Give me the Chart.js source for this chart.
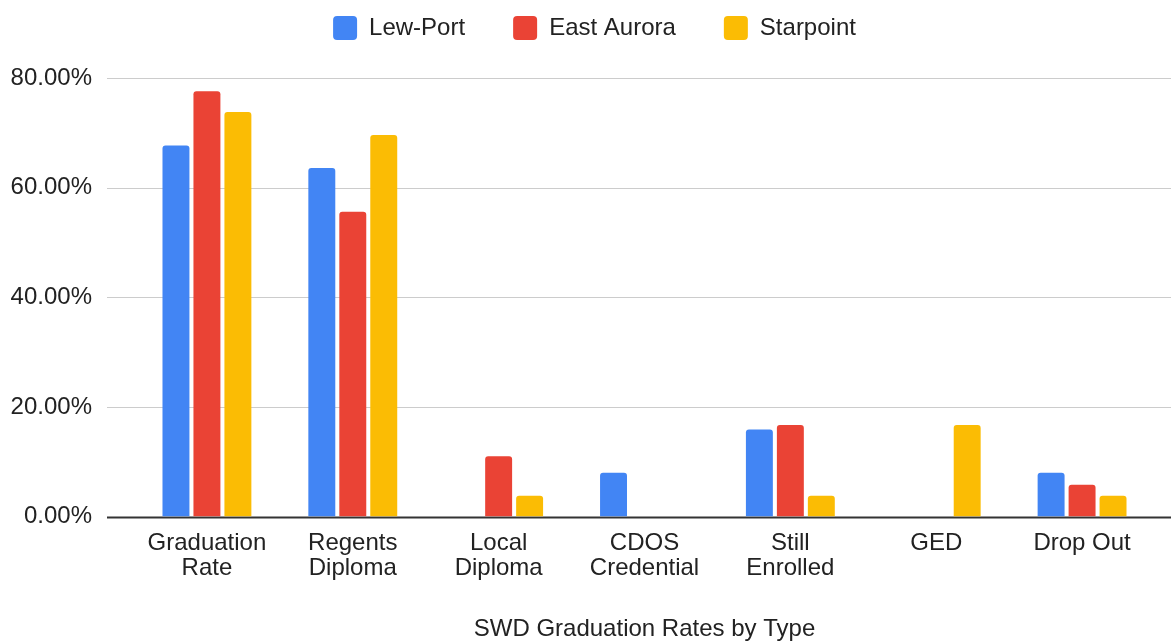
<!DOCTYPE html>
<html>
<head>
<meta charset="utf-8">
<script src="https://cdn.jsdelivr.net/npm/chart.js@4/dist/chart.umd.min.js"></script>
<style>
  html, body { margin: 0; padding: 0; background: #fff; }
  #wrap { width: 1171px; height: 641px; }
</style>
</head>
<body>
<div id="wrap"><canvas id="myChart" width="1171" height="641"></canvas></div>
<script>
const categories = [
  ['Graduation', 'Rate'],
  ['Regents', 'Diploma'],
  ['Local', 'Diploma'],
  ['CDOS', 'Credential'],
  ['Still', 'Enrolled'],
  'GED',
  'Drop Out'
];

const lewPort    = [67.7, 63.6, 0, 8.0, 15.9, 0, 8.0];
const eastAurora = [77.6, 55.6, 11.0, 0, 16.7, 0, 5.8];
const starpoint  = [73.8, 69.6, 3.8, 0, 3.8, 16.7, 3.8];

const yTicks = [0, 20, 40, 60, 80];

const font = "'Liberation Sans', Arial, sans-serif";
const legendGap = 48;
const topPad = 16 - legendGap;

// draws the horizontal grid a bit wider than the plot, like the original
const wideGrid = {
  id: 'wideGrid',
  beforeDatasetsDraw(chart) {
    const c = chart.ctx;
    const y = chart.scales.y;
    c.save();
    yTicks.forEach(v => {
      const py = Math.round(y.getPixelForValue(v)) + 0.5;
      c.beginPath();
      c.moveTo(chart.chartArea.left - 27, py);
      c.lineTo(chart.width, py);
      c.lineWidth = v === 0 ? 2 : 1;
      c.strokeStyle = v === 0 ? '#333333' : '#cccccc';
      c.stroke();
    });
    c.restore();
  }
};

// legend block tall enough so the plot starts lower, nudged right a little
const legendHeight = {
  id: 'legendHeight',
  beforeInit(chart) {
    const fit = chart.legend.fit;
    chart.legend.fit = function () {
      fit.call(this);
      this.height = 78 - topPad;
    };
  },
  afterLayout(chart) {
    chart.legend.left += 13;
    chart.legend.right += 13;
  }
};

new Chart(document.getElementById('myChart'), {
  type: 'bar',
  data: {
    labels: categories,
    datasets: [
      { label: 'Lew-Port', data: lewPort, backgroundColor: '#4285F4' },
      { label: 'East Aurora', data: eastAurora, backgroundColor: '#EA4335' },
      { label: 'Starpoint', data: starpoint, backgroundColor: '#FBBC04' }
    ]
  },
  options: {
    responsive: false,
    animation: false,
    layout: { padding: { left: 8, right: 16, top: topPad, bottom: 0 } },
    datasets: {
      bar: {
        categoryPercentage: 0.637,
        barPercentage: 0.87,
        borderRadius: { topLeft: 3, topRight: 3 },
        borderSkipped: 'bottom'
      }
    },
    scales: {
      y: {
        min: 0,
        max: 80,
        border: { display: false },
        grid: { display: false, drawTicks: false },
        afterBuildTicks(axis) { axis.ticks = yTicks.map(v => ({ value: v })); },
        afterFit(axis) { axis.width = 126; },
        ticks: {
          padding: 42,
          color: '#222',
          font: { family: font, size: 24 },
          callback: v => v.toFixed(2) + '%'
        }
      },
      x: {
        border: { display: false },
        grid: { display: false, drawTicks: false },
        ticks: {
          padding: 14,
          color: '#222',
          maxRotation: 0,
          font: { family: font, size: 24, lineHeight: 1.05 }
        },
        title: {
          display: true,
          text: 'SWD Graduation Rates by Type',
          color: '#222',
          font: { family: font, size: 24, lineHeight: 1 },
          padding: { top: 22, bottom: 0 }
        }
      }
    },
    plugins: {
      legend: {
        position: 'top',
        labels: {
          boxWidth: 24,
          boxHeight: 24,
          useBorderRadius: true,
          borderRadius: 4,
          padding: legendGap,
          color: '#222',
          font: { family: font, size: 24 }
        }
      },
      tooltip: { enabled: false }
    }
  },
  plugins: [wideGrid, legendHeight]
});
</script>
</body>
</html>
